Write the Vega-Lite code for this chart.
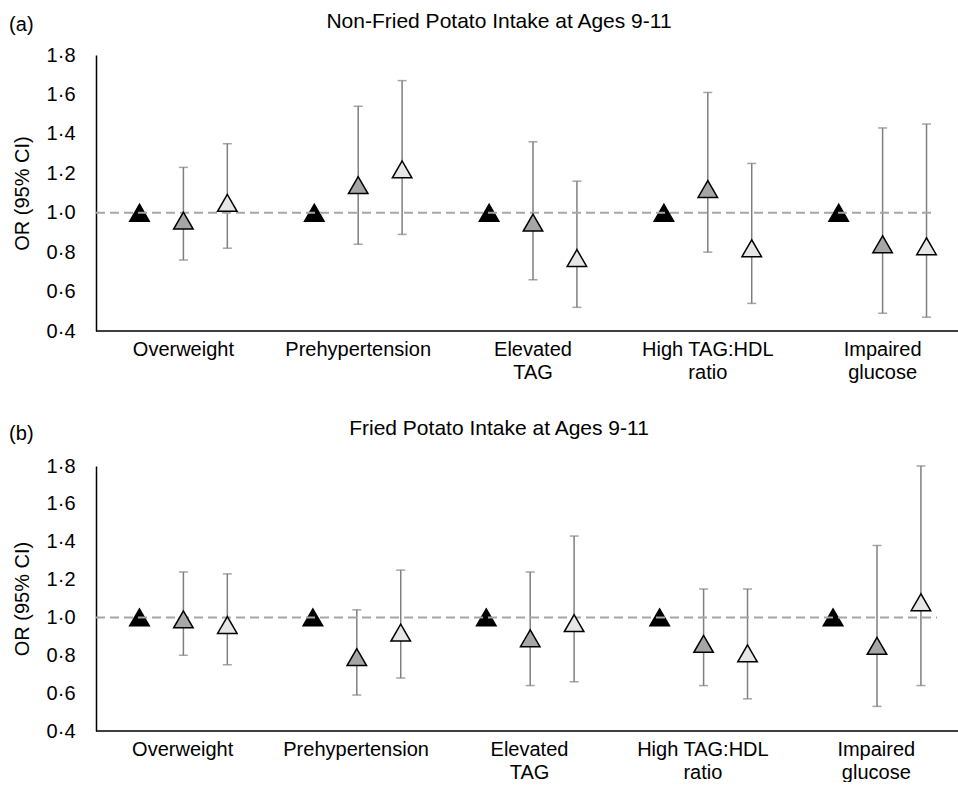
{
  "$schema": "https://vega.github.io/schema/vega-lite/v6.json",
  "padding": {"top": 11, "left": 9, "right": 0, "bottom": 0},
  "spacing": 36,
  "config": {
    "font": "Liberation Sans",
    "view": {"stroke": null},
    "title": {"fontWeight": "normal", "fontSize": 20, "color": "#000"},
    "axis": {"labelFontSize": 20, "titleFontSize": 20, "titleFontWeight": "normal", "labelColor": "#000", "titleColor": "#000", "grid": false, "ticks": false, "tickSize": 0, "labelOverlap": false},
    "concat": {"spacing": 0}
  },
  "datasets": {
    "nonfried": [
      {"outcome": "Overweight", "group": "T1", "or": 1.0, "lo": null, "hi": null},
      {"outcome": "Overweight", "group": "T2", "or": 0.96, "lo": 0.76, "hi": 1.23},
      {"outcome": "Overweight", "group": "T3", "or": 1.05, "lo": 0.82, "hi": 1.35},
      {"outcome": "Prehypertension", "group": "T1", "or": 1.0, "lo": null, "hi": null},
      {"outcome": "Prehypertension", "group": "T2", "or": 1.14, "lo": 0.84, "hi": 1.54},
      {"outcome": "Prehypertension", "group": "T3", "or": 1.22, "lo": 0.89, "hi": 1.67},
      {"outcome": "Elevated TAG", "group": "T1", "or": 1.0, "lo": null, "hi": null},
      {"outcome": "Elevated TAG", "group": "T2", "or": 0.95, "lo": 0.66, "hi": 1.36},
      {"outcome": "Elevated TAG", "group": "T3", "or": 0.77, "lo": 0.52, "hi": 1.16},
      {"outcome": "High TAG:HDL ratio", "group": "T1", "or": 1.0, "lo": null, "hi": null},
      {"outcome": "High TAG:HDL ratio", "group": "T2", "or": 1.12, "lo": 0.80, "hi": 1.61},
      {"outcome": "High TAG:HDL ratio", "group": "T3", "or": 0.82, "lo": 0.54, "hi": 1.25},
      {"outcome": "Impaired glucose", "group": "T1", "or": 1.0, "lo": null, "hi": null},
      {"outcome": "Impaired glucose", "group": "T2", "or": 0.84, "lo": 0.49, "hi": 1.43},
      {"outcome": "Impaired glucose", "group": "T3", "or": 0.83, "lo": 0.47, "hi": 1.45}
    ],
    "fried": [
      {"outcome": "Overweight", "group": "T1", "or": 1.0, "lo": null, "hi": null},
      {"outcome": "Overweight", "group": "T2", "or": 0.99, "lo": 0.80, "hi": 1.24},
      {"outcome": "Overweight", "group": "T3", "or": 0.96, "lo": 0.75, "hi": 1.23},
      {"outcome": "Prehypertension", "group": "T1", "or": 1.0, "lo": null, "hi": null},
      {"outcome": "Prehypertension", "group": "T2", "or": 0.79, "lo": 0.59, "hi": 1.04},
      {"outcome": "Prehypertension", "group": "T3", "or": 0.92, "lo": 0.68, "hi": 1.25},
      {"outcome": "Elevated TAG", "group": "T1", "or": 1.0, "lo": null, "hi": null},
      {"outcome": "Elevated TAG", "group": "T2", "or": 0.89, "lo": 0.64, "hi": 1.24},
      {"outcome": "Elevated TAG", "group": "T3", "or": 0.97, "lo": 0.66, "hi": 1.43},
      {"outcome": "High TAG:HDL ratio", "group": "T1", "or": 1.0, "lo": null, "hi": null},
      {"outcome": "High TAG:HDL ratio", "group": "T2", "or": 0.86, "lo": 0.64, "hi": 1.15},
      {"outcome": "High TAG:HDL ratio", "group": "T3", "or": 0.81, "lo": 0.57, "hi": 1.15},
      {"outcome": "Impaired glucose", "group": "T1", "or": 1.0, "lo": null, "hi": null},
      {"outcome": "Impaired glucose", "group": "T2", "or": 0.85, "lo": 0.53, "hi": 1.38},
      {"outcome": "Impaired glucose", "group": "T3", "or": 1.08, "lo": 0.64, "hi": 1.80}
    ]
  },
  "vconcat": [
    {
      "title": {"text": "(a)", "anchor": "start", "frame": "bounds", "offset": -24, "dx": -3},
      "vconcat": [
        {
          "width": 862,
          "height": 276,
          "title": {"text": "Non-Fried Potato Intake at Ages 9-11", "anchor": "middle", "frame": "group", "dx": -28, "offset": 13, "fontSize": 21},
          "data": {"name": "nonfried"},
          "layer": [
            {
              "transform": [{"filter": "datum.lo != null"}],
              "mark": {"type": "rule", "color": "#7f7f7f", "strokeWidth": 1.5},
              "encoding": {
                "x": {"field": "outcome", "type": "nominal", "sort": ["Overweight", "Prehypertension", "Elevated TAG", "High TAG:HDL ratio", "Impaired glucose"], "scale": {"range": [0, 874], "paddingInner": 0, "paddingOuter": 0},
                  "axis": {"title": null, "domain": false, "labelAngle": 0, "labelPadding": 8, "labelBaseline": "top", "labelLineHeight": 23, "labelExpr": "datum.label == 'Elevated TAG' ? ['Elevated', 'TAG'] : datum.label == 'High TAG:HDL ratio' ? ['High TAG:HDL', 'ratio'] : datum.label == 'Impaired glucose' ? ['Impaired', 'glucose'] : datum.label"}},
                "xOffset": {"field": "group", "type": "nominal", "scale": {"paddingOuter": 0.49, "paddingInner": 0}},
                "y": {"field": "lo", "type": "quantitative", "scale": {"domain": [0.4, 1.8], "zero": false, "nice": false},
                  "axis": {"title": "OR (95% CI)", "titlePadding": 14, "values": [0.4, 0.6, 0.8, 1.0, 1.2, 1.4, 1.6, 1.8], "tickCount": 10, "labelOverlap": false, "labelPadding": 21, "domainColor": "#000", "domainWidth": 1.5, "labelExpr": "replace(format(datum.value, '.1f'), '.', '·')"}},
                "y2": {"field": "hi"}
              }
            },
            {
              "transform": [{"filter": "datum.lo != null"}],
              "mark": {"type": "tick", "color": "#7f7f7f", "thickness": 1.5, "size": 9},
              "encoding": {
                "x": {"field": "outcome", "type": "nominal", "sort": ["Overweight", "Prehypertension", "Elevated TAG", "High TAG:HDL ratio", "Impaired glucose"]},
                "xOffset": {"field": "group", "type": "nominal"},
                "y": {"field": "lo", "type": "quantitative"}
              }
            },
            {
              "transform": [{"filter": "datum.lo != null"}],
              "mark": {"type": "tick", "color": "#7f7f7f", "thickness": 1.5, "size": 9},
              "encoding": {
                "x": {"field": "outcome", "type": "nominal", "sort": ["Overweight", "Prehypertension", "Elevated TAG", "High TAG:HDL ratio", "Impaired glucose"]},
                "xOffset": {"field": "group", "type": "nominal"},
                "y": {"field": "hi", "type": "quantitative"}
              }
            },
            {
              "transform": [{"filter": "datum.group == 'T1'"}],
              "mark": {"type": "point", "shape": "triangle-up", "size": 380, "filled": true, "stroke": "#000", "strokeWidth": 1.5, "opacity": 1},
              "encoding": {
                "x": {"field": "outcome", "type": "nominal", "sort": ["Overweight", "Prehypertension", "Elevated TAG", "High TAG:HDL ratio", "Impaired glucose"]},
                "xOffset": {"field": "group", "type": "nominal"},
                "y": {"field": "or", "type": "quantitative"},
                "fill": {"field": "group", "type": "nominal", "scale": {"domain": ["T1", "T2", "T3"], "range": ["#000000", "#a6a6a6", "#e6e6e6"]}, "legend": null}
              }
            },
            {
              "data": {"values": [{"ref": "OR = 1"}]},
              "mark": {"type": "rule", "color": "#a6a6a6", "strokeWidth": 2, "strokeDash": [9, 5]},
              "encoding": {
                "y": {"datum": 1},
                "x": {"datum": "Overweight", "type": "nominal", "bandPosition": 0},
                "x2": {"datum": "Impaired glucose", "bandPosition": 0.8}
              }
            },
            {
              "data": {"values": [{"ref": "axis"}]},
              "mark": {"type": "rule", "color": "#000", "strokeWidth": 1.5},
              "encoding": {"y": {"datum": 0.4}}
            },
            {
              "transform": [{"filter": "datum.group != 'T1'"}],
              "mark": {"type": "point", "shape": "triangle-up", "size": 380, "filled": true, "stroke": "#000", "strokeWidth": 1.5, "opacity": 1},
              "encoding": {
                "x": {"field": "outcome", "type": "nominal", "sort": ["Overweight", "Prehypertension", "Elevated TAG", "High TAG:HDL ratio", "Impaired glucose"]},
                "xOffset": {"field": "group", "type": "nominal"},
                "y": {"field": "or", "type": "quantitative"},
                "fill": {"field": "group", "type": "nominal", "legend": null}
              }
            }
          ]
        }
      ]
    },
    {
      "title": {"text": "(b)", "anchor": "start", "frame": "bounds", "offset": -26, "dx": -3},
      "vconcat": [
        {
          "width": 862,
          "height": 265,
          "title": {"text": "Fried Potato Intake at Ages 9-11", "anchor": "middle", "frame": "group", "dx": -28, "offset": 17, "fontSize": 21},
          "data": {"name": "fried"},
          "layer": [
            {
              "transform": [{"filter": "datum.lo != null"}],
              "mark": {"type": "rule", "color": "#7f7f7f", "strokeWidth": 1.5},
              "encoding": {
                "x": {"field": "outcome", "type": "nominal", "sort": ["Overweight", "Prehypertension", "Elevated TAG", "High TAG:HDL ratio", "Impaired glucose"], "scale": {"range": [0, 867], "paddingInner": 0, "paddingOuter": 0},
                  "axis": {"title": null, "domain": false, "labelAngle": 0, "labelPadding": 8, "labelBaseline": "top", "labelLineHeight": 23, "labelExpr": "datum.label == 'Elevated TAG' ? ['Elevated', 'TAG'] : datum.label == 'High TAG:HDL ratio' ? ['High TAG:HDL', 'ratio'] : datum.label == 'Impaired glucose' ? ['Impaired', 'glucose'] : datum.label"}},
                "xOffset": {"field": "group", "type": "nominal", "scale": {"paddingOuter": 0.49, "paddingInner": 0}},
                "y": {"field": "lo", "type": "quantitative", "scale": {"domain": [0.4, 1.8], "zero": false, "nice": false},
                  "axis": {"title": "OR (95% CI)", "titlePadding": 14, "values": [0.4, 0.6, 0.8, 1.0, 1.2, 1.4, 1.6, 1.8], "tickCount": 10, "labelOverlap": false, "labelPadding": 21, "domainColor": "#000", "domainWidth": 1.5, "labelExpr": "replace(format(datum.value, '.1f'), '.', '·')"}},
                "y2": {"field": "hi"}
              }
            },
            {
              "transform": [{"filter": "datum.lo != null"}],
              "mark": {"type": "tick", "color": "#7f7f7f", "thickness": 1.5, "size": 9},
              "encoding": {
                "x": {"field": "outcome", "type": "nominal", "sort": ["Overweight", "Prehypertension", "Elevated TAG", "High TAG:HDL ratio", "Impaired glucose"]},
                "xOffset": {"field": "group", "type": "nominal"},
                "y": {"field": "lo", "type": "quantitative"}
              }
            },
            {
              "transform": [{"filter": "datum.lo != null"}],
              "mark": {"type": "tick", "color": "#7f7f7f", "thickness": 1.5, "size": 9},
              "encoding": {
                "x": {"field": "outcome", "type": "nominal", "sort": ["Overweight", "Prehypertension", "Elevated TAG", "High TAG:HDL ratio", "Impaired glucose"]},
                "xOffset": {"field": "group", "type": "nominal"},
                "y": {"field": "hi", "type": "quantitative"}
              }
            },
            {
              "transform": [{"filter": "datum.group == 'T1'"}],
              "mark": {"type": "point", "shape": "triangle-up", "size": 380, "filled": true, "stroke": "#000", "strokeWidth": 1.5, "opacity": 1},
              "encoding": {
                "x": {"field": "outcome", "type": "nominal", "sort": ["Overweight", "Prehypertension", "Elevated TAG", "High TAG:HDL ratio", "Impaired glucose"]},
                "xOffset": {"field": "group", "type": "nominal"},
                "y": {"field": "or", "type": "quantitative"},
                "fill": {"field": "group", "type": "nominal", "scale": {"domain": ["T1", "T2", "T3"], "range": ["#000000", "#a6a6a6", "#e6e6e6"]}, "legend": null}
              }
            },
            {
              "data": {"values": [{"ref": "OR = 1"}]},
              "mark": {"type": "rule", "color": "#a6a6a6", "strokeWidth": 2, "strokeDash": [9, 5]},
              "encoding": {
                "y": {"datum": 1},
                "x": {"datum": "Overweight", "type": "nominal", "bandPosition": 0},
                "x2": {"datum": "Impaired glucose", "bandPosition": 0.85}
              }
            },
            {
              "data": {"values": [{"ref": "axis"}]},
              "mark": {"type": "rule", "color": "#000", "strokeWidth": 1.5},
              "encoding": {"y": {"datum": 0.4}}
            },
            {
              "transform": [{"filter": "datum.group != 'T1'"}],
              "mark": {"type": "point", "shape": "triangle-up", "size": 380, "filled": true, "stroke": "#000", "strokeWidth": 1.5, "opacity": 1},
              "encoding": {
                "x": {"field": "outcome", "type": "nominal", "sort": ["Overweight", "Prehypertension", "Elevated TAG", "High TAG:HDL ratio", "Impaired glucose"]},
                "xOffset": {"field": "group", "type": "nominal"},
                "y": {"field": "or", "type": "quantitative"},
                "fill": {"field": "group", "type": "nominal", "legend": null}
              }
            }
          ]
        }
      ]
    }
  ]
}
